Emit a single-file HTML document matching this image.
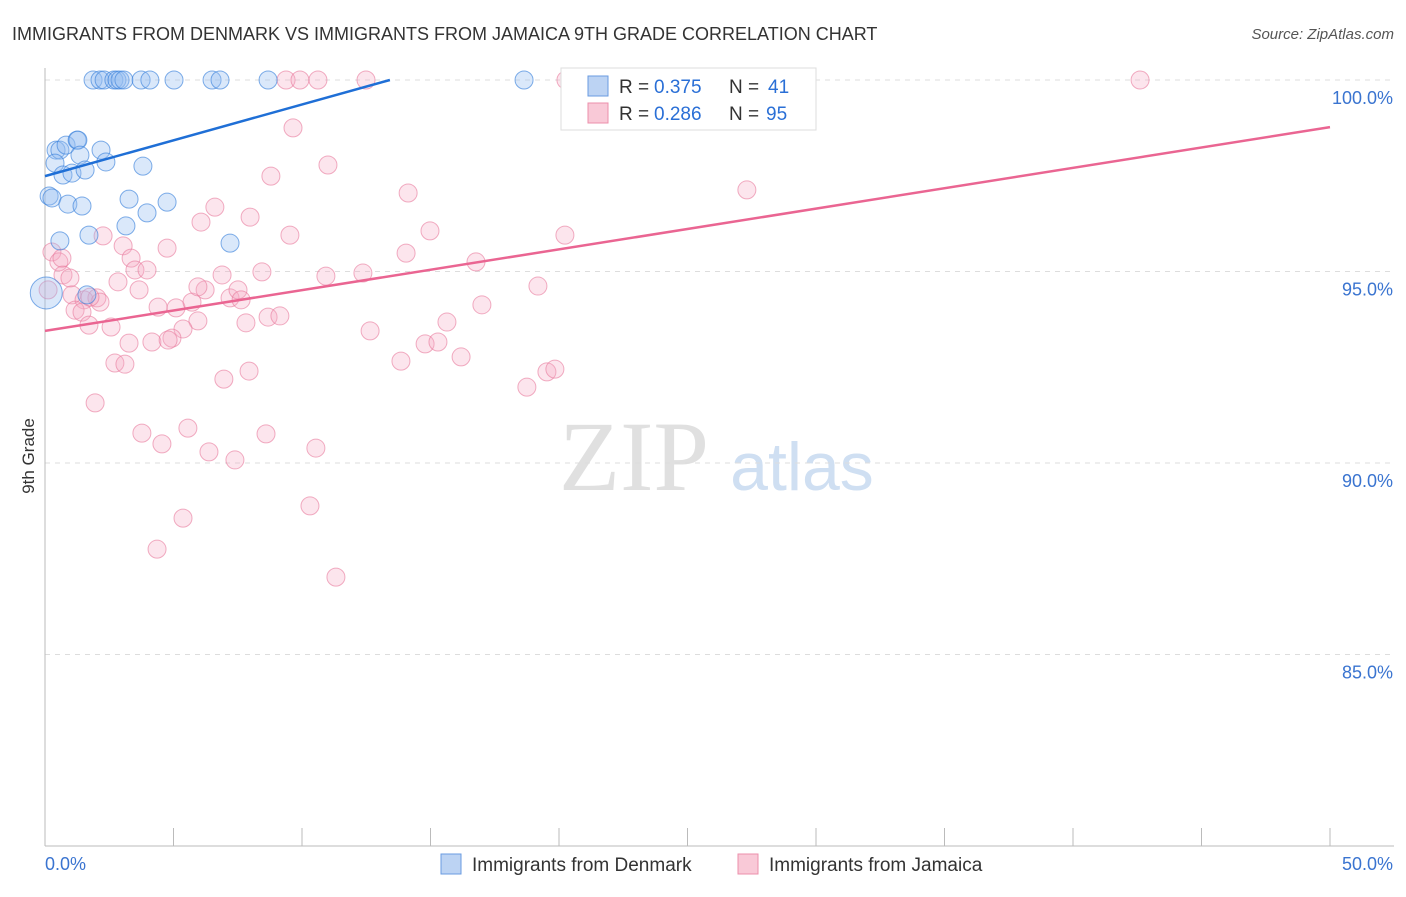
<!DOCTYPE html>
<html><head><meta charset="utf-8"><style>
body{margin:0;background:#fff;font-family:"Liberation Sans",sans-serif;}
svg text{font-family:"Liberation Sans",sans-serif;}
</style></head><body>
<svg width="1406" height="892" id="chart">
<text x="12" y="40" font-size="18" fill="#333">IMMIGRANTS FROM DENMARK VS IMMIGRANTS FROM JAMAICA 9TH GRADE CORRELATION CHART</text>
<text x="1394" y="39" font-size="15" fill="#555" font-style="italic" text-anchor="end">Source: ZipAtlas.com</text>
<text x="634" y="490" font-size="100" fill="#e0e0e0" font-family="Liberation Serif" text-anchor="middle" style="font-family:'Liberation Serif',serif">ZIP</text>
<text x="802" y="490" font-size="68" fill="#cfdff2" text-anchor="middle">atlas</text>
<text transform="translate(34,456) rotate(-90)" font-size="17" fill="#333" text-anchor="middle">9th Grade</text>
<g id="grid"></g><g id="pts"></g><g id="lines"></g>
<g>
<rect x="561" y="68" width="255" height="62" fill="#fff" stroke="#ddd"/>
<rect x="588" y="76" width="20" height="20" fill="#bcd3f3" stroke="#6a9be0"/>
<text x="619" y="93" font-size="19" fill="#333">R =</text>
<text x="654" y="93" font-size="19" fill="#2a6fd6">0.375</text>
<text x="729" y="93" font-size="19" fill="#333">N =</text>
<text x="768" y="93" font-size="19" fill="#2a6fd6">41</text>
<rect x="588" y="103" width="20" height="20" fill="#f9c9d7" stroke="#ec8fab"/>
<text x="619" y="120" font-size="19" fill="#333">R =</text>
<text x="654" y="120" font-size="19" fill="#2a6fd6">0.286</text>
<text x="729" y="120" font-size="19" fill="#333">N =</text>
<text x="766" y="120" font-size="19" fill="#2a6fd6">95</text>
</g>
<g>
<rect x="441" y="854" width="20" height="20" fill="#bcd3f3" stroke="#6a9be0"/>
<text x="472" y="871" font-size="19" fill="#333">Immigrants from Denmark</text>
<rect x="738" y="854" width="20" height="20" fill="#f9c9d7" stroke="#ec8fab"/>
<text x="769" y="871" font-size="19" fill="#333">Immigrants from Jamaica</text>
</g>
</svg>
<script>
const yTicks=[100,95,90,85];
const xTickLabels=["0.0%","50.0%"];
const blueX=[1.87,2.14,2.30,2.68,2.80,2.92,3.07,3.74,4.08,5.02,6.50,6.81,8.68,18.64,0.43,0.58,0.82,1.25,1.28,2.18,0.39,1.36,2.37,3.81,0.70,1.05,1.56,0.16,0.27,0.89,1.44,3.27,4.75,3.97,3.15,0.58,1.71,7.20,1.63,0.05];
const blueY=[100,100,100,100,100,100,100,100,100,100,100,100,100,100,98.17,98.17,98.30,98.43,98.43,98.17,97.83,98.04,97.86,97.75,97.52,97.57,97.65,96.97,96.92,96.76,96.71,96.89,96.81,96.53,96.19,95.80,95.95,95.74,94.39,94.44];
const pinkX=[9.38,9.92,10.62,12.49,20.27,25.76,42.61,9.65,11.01,14.13,27.31,8.79,7.98,6.61,6.07,9.53,14.98,20.23,14.05,16.77,0.27,0.54,0.70,0.97,2.26,3.04,3.35,3.50,3.97,4.75,2.84,3.66,6.89,8.44,10.93,12.37,19.18,0.12,1.05,1.52,2.02,2.14,1.17,1.44,1.71,2.57,4.40,5.10,5.72,6.23,5.95,7.20,7.51,7.63,8.68,9.14,7.82,5.95,5.37,4.94,4.16,4.79,3.27,12.65,15.64,17.00,14.79,15.29,13.85,16.19,18.75,19.53,19.84,2.72,3.11,6.96,7.94,1.95,3.77,4.55,5.56,6.38,7.39,8.60,10.54,5.37,4.36,10.31,11.32,1.75,0.66];
const pinkY=[100,100,100,100,100,100,100,98.75,97.78,97.05,97.13,97.49,96.42,96.68,96.29,95.95,96.06,95.95,95.48,95.25,95.51,95.25,94.91,94.83,95.93,95.67,95.35,95.04,95.04,95.61,94.73,94.52,94.91,94.99,94.88,94.96,94.62,94.52,94.39,94.26,94.31,94.20,93.99,93.94,93.60,93.55,94.07,94.05,94.20,94.52,94.60,94.31,94.52,94.26,93.81,93.84,93.66,93.71,93.50,93.26,93.16,93.21,93.13,93.45,93.68,94.13,93.11,93.16,92.66,92.77,91.98,92.38,92.45,92.61,92.58,92.19,92.40,91.57,90.78,90.50,90.91,90.29,90.08,90.76,90.39,88.56,87.75,88.88,87.02,94.33,95.35];
const blueTrend=[[0,97.49],[13.42,100]];
const pinkTrend=[[0,93.45],[50,98.77]];
const X=v=>45+v/50*1285, Y=v=>80+(100-v)*38.3;
const NS="http://www.w3.org/2000/svg";
function mk(t,a,p){const e=document.createElementNS(NS,t);for(const k in a)e.setAttribute(k,a[k]);document.getElementById(p).appendChild(e);return e;}
yTicks.forEach(t=>{
 const l=mk('line',{x1:45,x2:1394,y1:Y(t),y2:Y(t),stroke:'#ddd','stroke-dasharray':'5,5'},'grid');
 
 
 const tx=mk('text',{x:1393,y:Y(t)+24,'font-size':18,fill:'#3a74d0','text-anchor':'end'},'grid');
 tx.textContent=t.toFixed(1)+'%';
 
 
});
mk('line',{x1:45,x2:45,y1:68,y2:846,stroke:'#bbb'},'grid');
mk('line',{x1:45,x2:1394,y1:846,y2:846,stroke:'#bbb'},'grid');
for(let i=0;i<=10;i++){const l=mk('line',{x1:X(i*5),x2:X(i*5),y1:828,y2:846,stroke:'#bbb'},'grid');
 
 }
[[0,45,'start'],[1,1393,'end']].forEach(([i,x,a])=>{const t=mk('text',{x:x,y:870,'font-size':18,fill:'#3a74d0','text-anchor':a},'grid');t.textContent=xTickLabels[i];
 
 });
function pts(xs,ys,fill,stroke,name){xs.forEach((x,i)=>{const big=(i===xs.length-1&&name==='denmark-point');
 const c=mk('circle',{cx:X(x),cy:Y(ys[i]),r:big?16:9,fill:fill,stroke:stroke,'stroke-width':1},'pts');
 
 });}
pts(pinkX,pinkY,'rgba(246,170,195,0.3)','rgba(232,120,155,0.6)','jamaica-point');
pts(blueX,blueY,'rgba(150,190,240,0.35)','rgba(60,130,220,0.65)','denmark-point');
const b=mk('line',{x1:X(blueTrend[0][0]),y1:Y(blueTrend[0][1]),x2:X(blueTrend[1][0]),y2:Y(blueTrend[1][1]),stroke:'#1f6fd6','stroke-width':2.5},'lines');


const p=mk('line',{x1:X(pinkTrend[0][0]),y1:Y(pinkTrend[0][1]),x2:X(pinkTrend[1][0]),y2:Y(pinkTrend[1][1]),stroke:'#ea6592','stroke-width':2.5},'lines');


</script>
</body></html>
